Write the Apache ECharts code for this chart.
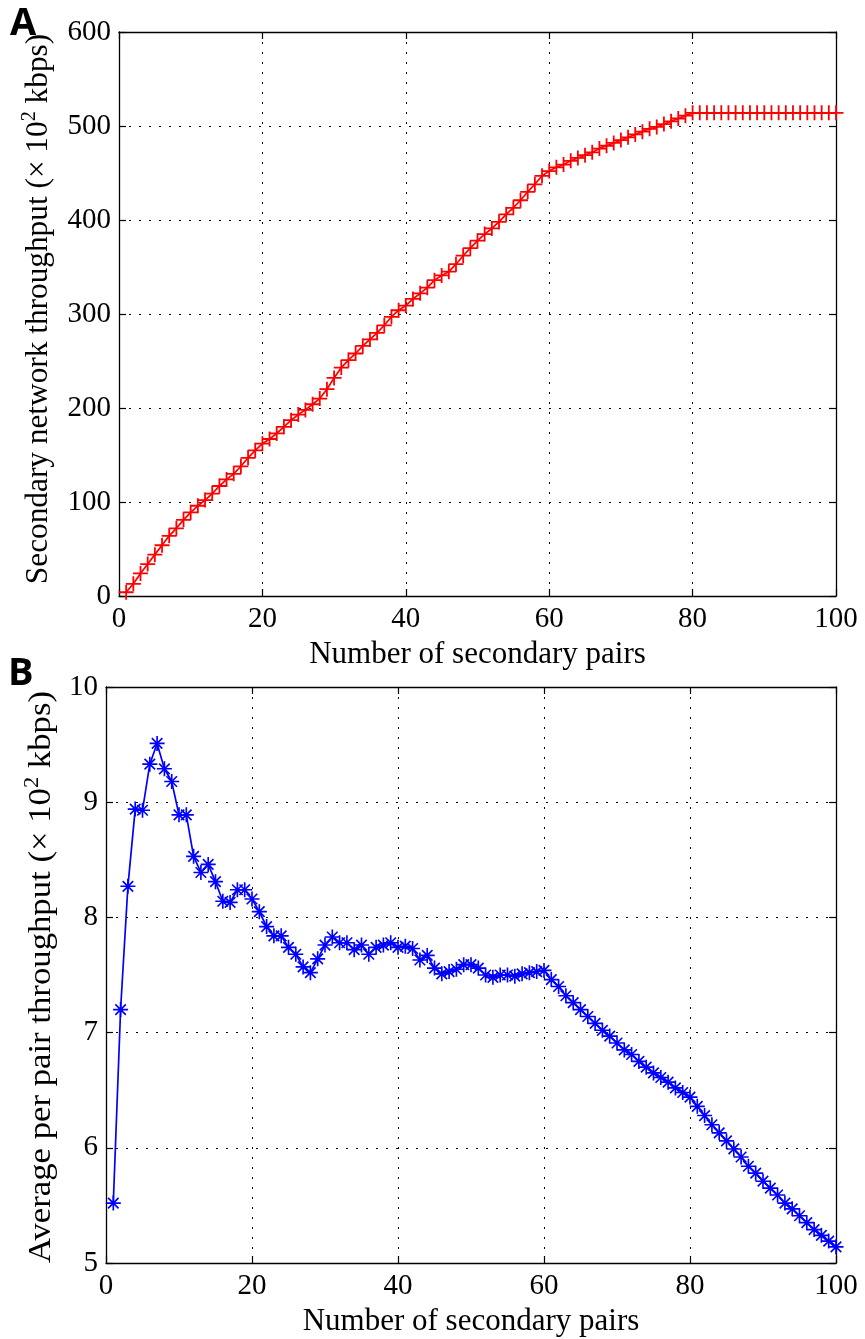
<!DOCTYPE html>
<html>
<head>
<meta charset="utf-8">
<script src="https://cdn.jsdelivr.net/npm/echarts@6/dist/echarts.min.js"></script>
<style>
html,body{margin:0;padding:0;background:#fff;}
#c{width:865px;height:1339px;}
</style>
</head>
<body>
<div id="c"></div>
<script>
// ---- data ----
const pairs = [1,2,3,4,5,6,7,8,9,10,11,12,13,14,15,16,17,18,19,20,
  21,22,23,24,25,26,27,28,29,30,31,32,33,34,35,36,37,38,39,40,
  41,42,43,44,45,46,47,48,49,50,51,52,53,54,55,56,57,58,59,60,
  61,62,63,64,65,66,67,68,69,70,71,72,73,74,75,76,77,78,79,80,
  81,82,83,84,85,86,87,88,89,90,91,92,93,94,95,96,97,98,99,100];

const networkThroughput = [4,13,24,34,44,54,64,72,81,89,96,102,109,117,124,130,138,147,155,162,
  167,173,180,187,193,198,204,210,220,232,243,251,258,266,273,280,288,297,304,309,
  316,322,328,336,341,345,353,362,370,378,385,391,398,406,413,421,430,438,447,452,
  456,459,463,466,469,472,476,479,482,485,488,491,494,497,499,502,505,508,511,514,
  514,514,514,514,514,514,514,514,514,514,514,514,514,514,514,514,514,514,514,514];

const perPairThroughput = [5.52,7.20,8.27,8.94,8.93,9.33,9.51,9.29,9.18,8.89,
  8.89,8.53,8.39,8.46,8.31,8.14,8.13,8.24,8.24,8.16,
  8.05,7.92,7.84,7.84,7.74,7.68,7.57,7.52,7.64,7.76,
  7.83,7.78,7.78,7.72,7.76,7.68,7.74,7.76,7.78,7.74,
  7.75,7.73,7.63,7.67,7.56,7.51,7.53,7.55,7.59,7.59,
  7.56,7.50,7.48,7.50,7.50,7.49,7.51,7.52,7.53,7.54,
  7.46,7.40,7.32,7.26,7.20,7.14,7.08,7.02,6.97,6.91,
  6.85,6.81,6.75,6.70,6.65,6.61,6.57,6.52,6.48,6.44,
  6.36,6.28,6.20,6.13,6.06,5.99,5.92,5.84,5.78,5.71,
  5.65,5.59,5.52,5.47,5.41,5.35,5.29,5.24,5.19,5.14];

const xTicks = [0,20,40,60,80,100];
const yTicksA = [0,100,200,300,400,500,600];
const yTicksB = [5,6,7,8,9,10];

const xTitle = 'Number of secondary pairs';
const yTitleA = ['Secondary network throughput (× 10', '2', ' kbps)'];
const yTitleB = ['Average per pair throughput (× 10', '2', ' kbps)'];
const panelLabels = ['A', 'B'];

// ---- styling ----
const SERIF = '"Liberation Serif", "DejaVu Serif", serif';
const SANS = '"Open Sans", "Liberation Sans", sans-serif';
const TICK_FS = 29;
const TITLE_FS = 31;
const PLUS = 'path://M-1.2,-10L1.2,-10L1.2,10L-1.2,10Z M-10,-1.2L10,-1.2L10,1.2L-10,1.2Z';
const STAR = 'path://M-1.1,-10L1.1,-10L1.1,10L-1.1,10Z M-10,-1.1L10,-1.1L10,1.1L-10,1.1Z M-6.22,-7.78L7.78,6.22L6.22,7.78L-7.78,-6.22Z M7.78,-6.22L-6.22,7.78L-7.78,6.22L6.22,-7.78Z';

function step(t){ return t[1]-t[0]; }

function mainX(grid, ticks, name){
  return {
    type:'value', gridIndex:grid, position:'bottom',
    min:ticks[0], max:ticks[ticks.length-1], interval:step(ticks),
    name:name, nameLocation:'middle', nameGap:43,
    nameTextStyle:{fontFamily:SERIF, fontSize:TITLE_FS, color:'#000'},
    axisLine:{show:true, onZero:false, lineStyle:{color:'#000', width:1.3}},
    axisTick:{show:true, inside:true, length:7, lineStyle:{color:'#000', width:1.2}},
    axisLabel:{show:true, margin:9, fontFamily:SERIF, fontSize:TICK_FS, color:'#000'},
    splitLine:{show:true, lineStyle:{color:'#000', width:1, type:[2,8]}}
  };
}
function sideX(grid, ticks){
  return {
    type:'value', gridIndex:grid, position:'top',
    min:ticks[0], max:ticks[ticks.length-1], interval:step(ticks),
    axisLine:{show:true, onZero:false, lineStyle:{color:'#000', width:1.3}},
    axisTick:{show:true, inside:true, length:7, lineStyle:{color:'#000', width:1.2}},
    axisLabel:{show:false}, splitLine:{show:false}
  };
}
function mainY(grid, ticks){
  return {
    type:'value', gridIndex:grid, position:'left',
    min:ticks[0], max:ticks[ticks.length-1], interval:step(ticks),
    axisLine:{show:true, onZero:false, lineStyle:{color:'#000', width:1.3}},
    axisTick:{show:true, inside:true, length:7, lineStyle:{color:'#000', width:1.2}},
    axisLabel:{show:true, margin:8, fontFamily:SERIF, fontSize:TICK_FS, color:'#000'},
    splitLine:{show:true, lineStyle:{color:'#000', width:1, type:[2,8]}}
  };
}
function sideY(grid, ticks){
  return {
    type:'value', gridIndex:grid, position:'right',
    min:ticks[0], max:ticks[ticks.length-1], interval:step(ticks),
    axisLine:{show:true, onZero:false, lineStyle:{color:'#000', width:1.3}},
    axisTick:{show:true, inside:true, length:7, lineStyle:{color:'#000', width:1.2}},
    axisLabel:{show:false}, splitLine:{show:false}
  };
}
function yTitle(parts, x, y, stretch){
  return {
    type:'text', x:x, y:y, rotation:Math.PI/2, scaleX:stretch, scaleY:1,
    style:{
      text:'{n|'+parts[0]+'}{s|'+parts[1]+'}{n|'+parts[2]+'}',
      align:'center', verticalAlign:'middle',
      rich:{
        n:{fontFamily:SERIF, fontSize:TITLE_FS, fill:'#000', lineHeight:36, verticalAlign:'bottom'},
        s:{fontFamily:SERIF, fontSize:20, fill:'#000', lineHeight:36, verticalAlign:'bottom', padding:[0,0,14,0]}
      }
    }
  };
}

const dataA = pairs.map((p,i)=>[p, networkThroughput[i]]);
const dataB = pairs.map((p,i)=>[p, perPairThroughput[i]]);

const chart = echarts.init(document.getElementById('c'), null, {renderer:'canvas'});
chart.setOption({
  backgroundColor:'#fff',
  animation:false,
  grid:[
    {left:119, top:32, width:717, height:564},
    {left:106, top:687, width:730, height:576}
  ],
  xAxis:[ mainX(0, xTicks, xTitle), sideX(0, xTicks), mainX(1, xTicks, xTitle), sideX(1, xTicks) ],
  yAxis:[ mainY(0, yTicksA), sideY(0, yTicksA), mainY(1, yTicksB), sideY(1, yTicksB) ],
  series:[
    {
      type:'line', xAxisIndex:0, yAxisIndex:0, data:dataA,
      symbol:PLUS, symbolSize:15, showSymbol:true, showAllSymbol:true,
      lineStyle:{color:'#ff0000', width:1.7},
      itemStyle:{color:'#ff0000', borderWidth:0},
      z:5
    },
    {
      type:'line', xAxisIndex:2, yAxisIndex:2, data:dataB,
      symbol:STAR, symbolSize:15, showSymbol:true, showAllSymbol:true,
      lineStyle:{color:'#0000ff', width:1.7},
      itemStyle:{color:'#0000ff', borderWidth:0},
      z:5
    }
  ],
  graphic:[
    yTitle(yTitleA, 36, 309, 1.01),
    yTitle(yTitleB, 39, 977, 1.12),
    {type:'text', left:10, top:5, style:{text:panelLabels[0], fontFamily:SANS, fontWeight:'bold', fontSize:38, fill:'#000'}},
    {type:'text', left:8, top:655, style:{text:panelLabels[1], fontFamily:SANS, fontWeight:'bold', fontSize:38, fill:'#000'}}
  ]
});
</script>
</body>
</html>
